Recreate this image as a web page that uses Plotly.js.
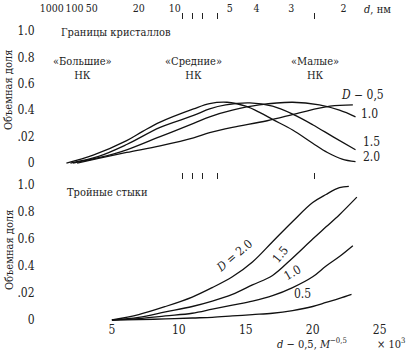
<!DOCTYPE html>
<html>
<head>
<meta charset="utf-8">
<script src="https://cdn.plot.ly/plotly-3.0.1.min.js"></script>
<style>html,body{margin:0;padding:0;background:#fff;}#chart{width:408px;height:351px;}</style>
</head>
<body>
<div id="chart"></div>
<script>
// ---- data (x: d^-0.5, units of 10^3) ----
// Top panel: grain boundaries
var gbX20 = [1.6, 3.6, 6.1, 7.3, 8.6, 11.1, 12.3, 13.6, 15, 16.1, 17, 18.5, 20, 21.1, 22.2, 23.2];
var gbY20 = [0, 0.06, 0.17, 0.24, 0.31, 0.41, 0.45, 0.46, 0.43, 0.38, 0.33, 0.25, 0.15, 0.08, 0.03, 0.01];
var gbX15 = [1.9, 4, 6.1, 8.6, 11.1, 12.3, 13.5, 15.3, 17, 18.5, 20, 21.5, 23.2];
var gbY15 = [0, 0.05, 0.14, 0.27, 0.36, 0.41, 0.44, 0.455, 0.43, 0.37, 0.29, 0.20, 0.10];
var gbX10 = [2.1, 4, 6.1, 8.6, 11.1, 12.3, 14, 16, 18.5, 20.5, 22, 23.2];
var gbY10 = [0, 0.04, 0.10, 0.20, 0.30, 0.35, 0.40, 0.44, 0.46, 0.44, 0.40, 0.35];
var gbX05 = [2.4, 4, 6.1, 8.6, 11.1, 12.3, 14, 16.6, 19, 21.3, 23.0];
var gbY05 = [0, 0.035, 0.08, 0.13, 0.19, 0.23, 0.27, 0.32, 0.38, 0.43, 0.44];
// Bottom panel: triple junctions
var tjX20 = [5, 7, 9, 11, 12.5, 14, 15.5, 17, 18.5, 20, 21, 22, 22.7];
var tjY20 = [0, 0.04, 0.10, 0.17, 0.24, 0.32, 0.43, 0.58, 0.73, 0.87, 0.93, 0.98, 0.99];
var tjX15 = [5, 7, 9, 11, 12.5, 14, 15.5, 17, 18.5, 20, 21, 22, 23.3];
var tjY15 = [0, 0.02, 0.06, 0.10, 0.14, 0.19, 0.26, 0.33, 0.46, 0.60, 0.69, 0.78, 0.91];
var tjX10 = [5, 7, 9, 11, 12.5, 14, 15.5, 17, 18.5, 20, 21, 22, 23];
var tjY10 = [0, 0.01, 0.03, 0.05, 0.08, 0.11, 0.14, 0.18, 0.24, 0.32, 0.40, 0.47, 0.55];
var tjX05 = [5, 7, 9, 11, 12.5, 14, 15.5, 17, 18.5, 20, 21, 22, 22.9];
var tjY05 = [0, 0.003, 0.008, 0.015, 0.02, 0.03, 0.04, 0.05, 0.07, 0.10, 0.13, 0.16, 0.19];

// ---- tick labels ----
var yTickVals = [0, 0.2, 0.4, 0.6, 0.8, 1.0];
var yTickText = ['0', '.02', '0.4', '0.6', '0.8', '1.0'];
var xTickVals = [5, 10, 15, 20, 25];
var topTickLabels = ['1000', '100', '50', '20', '10', '5', '4', '3', '2'];
var topTickPos = [0.5, 2.2, 3.5, 7.0, 9.7, 13.8, 15.8, 18.4, 22.3];
var minorTickPos = [10.3, 11.0, 11.8, 12.9, 20.1];

// ---- layout geometry ----
var W = 408, H = 351, ML = 45, MR = 15, MT = 20, MB = 30;
var PW = W - ML - MR, PH = H - MT - MB;
function px(x) { return (x - ML) / PW; }
function py(y) { return (H - MB - y) / PH; }

var FONT = '"DejaVu Serif Condensed", "DejaVu Serif", serif';
var TXT = '#222';
var lineStyle = {color: '#111', width: 1.3, shape: 'spline', smoothing: 1};

function tr(x, y, xa, ya) {
  return {x: x, y: y, xaxis: xa, yaxis: ya, type: 'scatter', mode: 'lines',
          line: lineStyle, hoverinfo: 'skip', showlegend: false, cliponaxis: false};
}
var data = [
  tr(gbX20, gbY20, 'x', 'y'), tr(gbX15, gbY15, 'x', 'y'),
  tr(gbX10, gbY10, 'x', 'y'), tr(gbX05, gbY05, 'x', 'y'),
  tr(tjX20, tjY20, 'x2', 'y2'), tr(tjX15, tjY15, 'x2', 'y2'),
  tr(tjX10, tjY10, 'x2', 'y2'), tr(tjX05, tjY05, 'x2', 'y2'),
  {x: [], y: [], xaxis: 'x3', yaxis: 'y', type: 'scatter', showlegend: false},
  {x: [], y: [], xaxis: 'x4', yaxis: 'y', type: 'scatter', showlegend: false}
];

var baseY = {
  tickvals: yTickVals, ticktext: yTickText, ticks: 'outside', ticklen: 7,
  tickcolor: 'rgba(0,0,0,0)', showgrid: false, zeroline: false, showline: false,
  tickfont: {family: FONT, size: 12, color: TXT}
};
function clone(o, extra) { var r = JSON.parse(JSON.stringify(o)); for (var k in extra) r[k] = extra[k]; return r; }

var ann = [];
function A(text, x, y, opts) {
  var a = {text: text, xref: 'paper', yref: 'paper', x: px(x), y: py(y),
           showarrow: false, xanchor: 'center', yanchor: 'middle',
           font: {family: FONT, size: 12, color: TXT}};
  if (opts) for (var k in opts) a[k] = opts[k];
  ann.push(a);
}
var f11 = {family: FONT, size: 11, color: TXT};
A('Объемная доля', 9, 90, {textangle: -90, font: f11});
A('Объемная доля', 9, 250, {textangle: -90, font: f11});
A('Границы кристаллов', 59, 33, {xanchor: 'left', font: f11});
A('Тройные стыки', 65, 192, {xanchor: 'left', font: f11});
A('«Большие»<br>НК', 82, 68, {font: f11});
A('«Средние»<br>НК', 193, 68, {font: f11});
A('«Малые»<br>НК', 315, 68, {font: f11});
A('<i>d</i>, нм', 377, 9, {font: f11});
A('<i>D</i> − 0,5', 362, 95);
A('1.0', 369, 114);
A('1.5', 371, 142);
A('2.0', 371, 157);
A('<i>D</i> = 2.0', 234, 256, {textangle: -40});
A('1.5', 280, 255, {textangle: -50});
A('1.0', 292, 273, {textangle: -30});
A('0.5', 302, 294);
A('<i>d</i> − 0,5, <i>M</i><sup>−0,5</sup>', 312, 343, {font: f11});
A('× 10<sup>3</sup>', 391, 343, {font: f11});

var layout = {
  width: W, height: H,
  margin: {l: ML, r: MR, t: MT, b: MB, pad: 0},
  paper_bgcolor: '#fff', plot_bgcolor: '#fff',
  showlegend: false,
  font: {family: FONT, color: TXT},
  xaxis: {domain: [0, 1], anchor: 'y', range: [0, 26], side: 'bottom',
          tickmode: 'array', tickvals: minorTickPos, ticks: 'outside', ticklen: 6,
          tickwidth: 1, tickcolor: '#222', showticklabels: false,
          showgrid: false, zeroline: false, showline: false},
  xaxis3: {overlaying: 'x', anchor: 'y', side: 'top', range: [0, 26],
           tickmode: 'array', tickvals: topTickPos, ticktext: topTickLabels,
           ticks: 'outside', ticklen: 3, tickcolor: 'rgba(0,0,0,0)', tickangle: 0,
           tickfont: {family: FONT, size: 10.5, color: TXT},
           showgrid: false, zeroline: false, showline: false},
  xaxis4: {overlaying: 'x', anchor: 'y', side: 'top', range: [0, 26],
           tickmode: 'array', tickvals: minorTickPos, ticks: 'outside', ticklen: 6,
           tickwidth: 1, tickcolor: '#222', showticklabels: false,
           showgrid: false, zeroline: false, showline: false},
  yaxis: clone(baseY, {domain: [py(172), 1], anchor: 'x', range: [-0.068, 1.083]}),
  xaxis2: {domain: [0, 1], anchor: 'y2', range: [0, 26],
           tickmode: 'array', tickvals: xTickVals, ticks: '', tickangle: 0,
           tickfont: {family: FONT, size: 12, color: TXT},
           showgrid: false, zeroline: false, showline: false},
  yaxis2: clone(baseY, {domain: [0, py(180)], anchor: 'x2', range: [-0.0074, 1.037]}),
  annotations: ann
};

Plotly.newPlot('chart', data, layout, {staticPlot: true, displayModeBar: false});
</script>
</body>
</html>
